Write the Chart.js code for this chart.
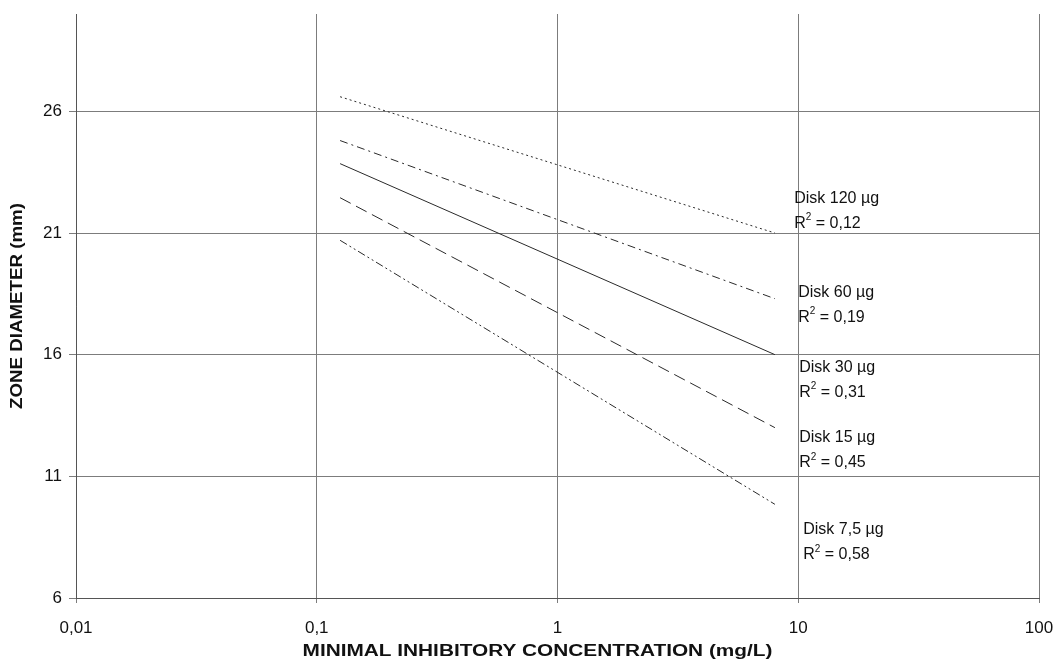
<!DOCTYPE html>
<html>
<head>
<meta charset="utf-8">
<script src="https://cdn.jsdelivr.net/npm/chart.js@4/dist/chart.umd.min.js"></script>
<style>
  html, body { margin: 0; padding: 0; background: #fff; }
  #wrap { width: 1057px; height: 664px; }
</style>
</head>
<body>
<div id="wrap"><canvas id="micChart"></canvas></div>
<script>
// MIC range of the regression lines (mg/L)
const mic = [0.125, 8];
// zone diameter (mm) at both ends of each line
const disk120 = [26.6, 21.0];
const disk60 = [24.8, 18.3];
const disk30 = [23.85, 16.0];
const disk15 = [22.45, 13.0];
const disk75 = [20.7, 9.85];
const diskNames = ['Disk 120 µg', 'Disk 60 µg', 'Disk 30 µg', 'Disk 15 µg', 'Disk 7,5 µg'];
const rSquared = ['0,12', '0,19', '0,31', '0,45', '0,58'];
const xTicks = [0.01, 0.1, 1, 10, 100];
const xTickLabels = ['0,01', '0,1', '1', '10', '100'];
const yTicks = [6, 11, 16, 21, 26];
const xTitle = 'MINIMAL INHIBITORY CONCENTRATION (mg/L)';
const yTitle = 'ZONE DIAMETER (mm)';

const series = [disk120, disk60, disk30, disk15, disk75];
const dashes = [[2, 3], [8, 4, 2, 4], [], [12, 6], [8, 3, 2, 3, 2, 3]];

const datasets = series.map((vals, i) => ({
    label: diskNames[i],
    data: mic.map((x, j) => ({ x: x, y: vals[j] })),
    showLine: true,
    borderColor: '#2a2a2a',
    borderWidth: 1,
    borderDash: dashes[i],
    pointRadius: 0,
    fill: false
}));

const fontFamily = '"Liberation Sans", Arial, sans-serif';

// text beside the line ends
const lineLabels = {
    id: 'lineLabels',
    afterDatasetsDraw(chart, args, opts) {
        const { ctx, scales: { x, y } } = chart;
        ctx.save();
        ctx.fillStyle = '#111';
        ctx.textBaseline = 'middle';
        ctx.textAlign = 'left';
        diskNames.forEach((name, i) => {
            const px = x.getPixelForValue(10) + opts.dx[i];
            const py = y.getPixelForValue(opts.yv[i]);
            ctx.font = '16px ' + fontFamily;
            ctx.fillText(name, px, py);
            ctx.fillText('R', px, py + 25);
            const rw = ctx.measureText('R').width;
            ctx.font = '10px ' + fontFamily;
            ctx.fillText('2', px + rw, py + 19);
            const sw = ctx.measureText('2').width;
            ctx.font = '16px ' + fontFamily;
            ctx.fillText(' = ' + rSquared[i], px + rw + sw, py + 25);
        });
        ctx.restore();
    }
};

// axis titles, drawn slightly widened like the scanned original
const axisTitles = {
    id: 'axisTitles',
    afterDraw(chart) {
        const { ctx, chartArea } = chart;
        ctx.save();
        ctx.fillStyle = '#111';
        ctx.font = 'bold 16px ' + fontFamily;
        ctx.textAlign = 'center';
        ctx.textBaseline = 'middle';
        ctx.translate((chartArea.left + chartArea.right) / 2 - 20, 652);
        ctx.scale(1.3, 1);
        ctx.fillText(xTitle, 0, 0);
        ctx.restore();

        ctx.save();
        ctx.fillStyle = '#111';
        ctx.font = 'bold 16px ' + fontFamily;
        ctx.textAlign = 'center';
        ctx.textBaseline = 'middle';
        ctx.translate(18, (chartArea.top + chartArea.bottom) / 2);
        ctx.rotate(-Math.PI / 2);
        ctx.scale(1.17, 1);
        ctx.fillText(yTitle, 0, 0);
        ctx.restore();
    }
};

new Chart(document.getElementById('micChart').getContext('2d'), {
    type: 'scatter',
    data: { datasets: datasets },
    plugins: [lineLabels, axisTitles],
    options: {
        responsive: true,
        maintainAspectRatio: false,
        animation: false,
        layout: { padding: { top: 14, right: 0, left: 0, bottom: 0 } },
        plugins: {
            legend: { display: false },
            tooltip: { enabled: false },
            lineLabels: {
                dx: [-4, 0, 1, 1, 5],
                yv: [22.42, 18.55, 15.47, 12.58, 8.8]
            }
        },
        scales: {
            x: {
                type: 'logarithmic',
                min: 0.01,
                max: 100,
                afterBuildTicks: s => { s.ticks = xTicks.map(v => ({ value: v })); },
                afterFit: s => { s.height = 66; s.paddingRight = 18; s.paddingLeft = 0; },
                ticks: {
                    color: '#111',
                    font: { family: fontFamily, size: 17 },
                    padding: 15,
                    maxRotation: 0,
                    callback: (v) => xTickLabels[xTicks.indexOf(v)]
                },
                grid: { color: '#7c7c7c', lineWidth: 1, tickLength: 5 },
                border: { color: '#555', width: 1 }
            },
            y: {
                min: 6,
                max: 30,
                afterBuildTicks: s => { s.ticks = yTicks.map(v => ({ value: v })); },
                afterFit: s => { s.width = 76; s.paddingTop = 0; s.paddingBottom = 0; },
                ticks: {
                    color: '#111',
                    font: { family: fontFamily, size: 17 },
                    padding: 7
                },
                grid: { color: '#7c7c7c', lineWidth: 1, tickLength: 7 },
                border: { color: '#555', width: 1 }
            }
        }
    }
});
</script>
</body>
</html>
